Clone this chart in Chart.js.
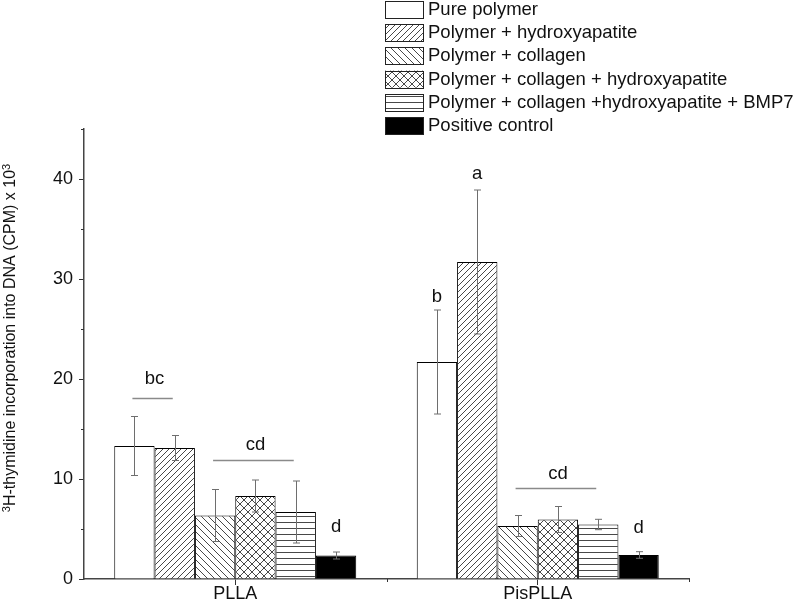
<!DOCTYPE html>
<html>
<head>
<meta charset="utf-8">
<script src="https://cdn.jsdelivr.net/npm/chart.js@4"></script>
<style>
  html, body { margin: 0; padding: 0; background: #fff; }
  #wrap { width: 799px; height: 604px; }
</style>
</head>
<body>
<div id="wrap"><canvas id="chart" width="799" height="604"></canvas></div>
<script>
// Categories and series
const groups = ["PLLA", "PisPLLA"];
const seriesNames = [
    "Pure polymer",
    "Polymer + hydroxyapatite",
    "Polymer + collagen",
    "Polymer + collagen + hydroxyapatite",
    "Polymer + collagen +hydroxyapatite + BMP7",
    "Positive control"
];

// Means (CPM x 10^3)
const purePolymer = [13.3, 21.7];
const withHydroxy = [13.1, 31.7];
const withCollagen = [6.35, 5.3];
const withCollagenHydroxy = [8.3, 5.95];
const withBmp7 = [6.7, 5.45];
const positiveControl = [2.35, 2.4];

// Error bars (+/-)
const errPure = [2.95, 5.2];
const errHydroxy = [1.25, 7.2];
const errCollagen = [2.6, 1.05];
const errCollagenHydroxy = [1.6, 1.3];
const errBmp7 = [3.1, 0.52];
const errPositive = [0.35, 0.33];

// Significance letters: group, first bar, last bar, letter height, line height
const sigLetters = ["bc", "cd", "d", "b", "a", "cd", "d"];
const sigGroup = [0, 0, 0, 1, 1, 1, 1];
const sigFrom = [0, 2, 5, 0, 1, 2, 5];
const sigTo = [1, 4, 5, 0, 1, 4, 5];
const sigTextY = [20.0, 13.4, 5.2, 28.2, 40.5, 10.5, 5.1];
const sigLineY = [18.05, 11.9, null, null, null, 9.15, null];

// Y axis
const yMax = 45;
const yStep = 5;

const FONT = "'Liberation Sans', Arial, sans-serif";

// Hatch patterns
function makePattern(kind) {
    if (kind === "white") return "#ffffff";
    if (kind === "black") return "#000000";
    const c = document.createElement("canvas");
    let s = 6;
    if (kind === "back") s = 7;
    if (kind === "cross") s = 8;
    c.width = s; c.height = s;
    const g = c.getContext("2d");
    g.fillStyle = "#fff";
    g.fillRect(0, 0, s, s);
    g.strokeStyle = "#333";
    g.lineWidth = 0.9;
    g.beginPath();
    if (kind === "fwd" || kind === "cross") {
        g.moveTo(-1, s + 1); g.lineTo(s + 1, -1);
        g.moveTo(-1, 1); g.lineTo(1, -1);
        g.moveTo(s - 1, s + 1); g.lineTo(s + 1, s - 1);
    }
    if (kind === "back" || kind === "cross") {
        g.moveTo(-1, -1); g.lineTo(s + 1, s + 1);
        g.moveTo(s - 1, -1); g.lineTo(s + 1, 1);
        g.moveTo(-1, s - 1); g.lineTo(1, s + 1);
    }
    if (kind === "horiz") {
        g.moveTo(0, 0.5); g.lineTo(s, 0.5);
    }
    g.stroke();
    return g.createPattern(c, "repeat");
}

const patterns = ["white", "fwd", "back", "cross", "horiz", "black"].map(makePattern);
const seriesValues = [purePolymer, withHydroxy, withCollagen, withCollagenHydroxy, withBmp7, positiveControl];
const seriesErrors = [errPure, errHydroxy, errCollagen, errCollagenHydroxy, errBmp7, errPositive];

const datasets = seriesNames.map((name, i) => ({
    label: name,
    data: seriesValues[i],
    errors: seriesErrors[i],
    backgroundColor: patterns[i],
    borderColor: "#000",
    borderWidth: 1,
    borderSkipped: "start",
    categoryPercentage: 0.8,
    barPercentage: 1.0
}));

// Error bars, letters, minor ticks, legend and y title
const extras = {
    id: "extras",
    afterDatasetsDraw(chart) {
        const ctx = chart.ctx;
        const y = chart.scales.y;
        ctx.save();
        // error bars
        ctx.strokeStyle = "#6e6e6e";
        ctx.lineWidth = 1;
        chart.data.datasets.forEach((ds, i) => {
            const meta = chart.getDatasetMeta(i);
            meta.data.forEach((bar, j) => {
                const v = ds.data[j], e = ds.errors[j];
                const x = Math.round(bar.x) + 0.5;
                const top = y.getPixelForValue(v + e);
                const bot = y.getPixelForValue(v - e);
                ctx.beginPath();
                ctx.moveTo(x, top); ctx.lineTo(x, bot);
                ctx.moveTo(x - 3.5, top); ctx.lineTo(x + 3.5, top);
                ctx.moveTo(x - 3.5, bot); ctx.lineTo(x + 3.5, bot);
                ctx.stroke();
            });
        });
        // significance letters
        ctx.font = "18.5px " + FONT;
        ctx.fillStyle = "#111";
        ctx.textAlign = "center";
        ctx.textBaseline = "middle";
        sigLetters.forEach((txt, k) => {
            const a = chart.getDatasetMeta(sigFrom[k]).data[sigGroup[k]];
            const b = chart.getDatasetMeta(sigTo[k]).data[sigGroup[k]];
            const cx = (a.x + b.x) / 2;
            ctx.fillText(txt, cx, y.getPixelForValue(sigTextY[k]));
            if (sigLineY[k] !== null) {
                const ly = Math.round(y.getPixelForValue(sigLineY[k])) + 0.5;
                ctx.strokeStyle = "#8a8a8a";
                ctx.lineWidth = 1.5;
                ctx.beginPath();
                ctx.moveTo(a.x - 2, ly); ctx.lineTo(b.x - 2, ly);
                ctx.stroke();
            }
        });
        ctx.restore();
    },
    afterDraw(chart) {
        const ctx = chart.ctx;
        const x = chart.scales.x, y = chart.scales.y;
        const area = chart.chartArea;
        ctx.save();
        // minor ticks
        ctx.strokeStyle = "#333";
        ctx.lineWidth = 1;
        ctx.beginPath();
        for (let v = yStep; v <= yMax; v += 2 * yStep) {
            const py = Math.round(y.getPixelForValue(v)) + 0.5;
            ctx.moveTo(area.left - 3, py); ctx.lineTo(area.left, py);
        }
        const half = (x.getPixelForTick(1) - x.getPixelForTick(0)) / 2;
        for (let k = 0; k < groups.length; k++) {
            const px = Math.round(x.getPixelForTick(k) + half) + 0.5;
            ctx.moveTo(px, area.bottom); ctx.lineTo(px, area.bottom + 3);
        }
        ctx.stroke();

        // legend
        ctx.font = "18.5px " + FONT;
        ctx.textAlign = "left";
        ctx.textBaseline = "middle";
        seriesNames.forEach((name, i) => {
            const top = 1 + i * 23.2;
            ctx.fillStyle = patterns[i];
            ctx.fillRect(385, top, 38, 17);
            ctx.strokeStyle = "#222";
            ctx.lineWidth = 1;
            ctx.strokeRect(385.5, Math.round(top) + 0.5, 38, 17);
            ctx.fillStyle = "#111";
            ctx.fillText(name, 428, top + 9);
        });

        // y axis title with superscripts
        ctx.translate(9, 338);
        ctx.rotate(-Math.PI / 2);
        const main = "H-thymidine incorporation into DNA (CPM) x 10";
        ctx.font = "16px " + FONT;
        const wMain = ctx.measureText(main).width;
        ctx.font = "11px " + FONT;
        const wSup = ctx.measureText("3").width;
        let start = -(wMain + 2 * wSup) / 2;
        ctx.fillStyle = "#111";
        ctx.textBaseline = "alphabetic";
        ctx.fillText("3", start, 1);
        ctx.font = "16px " + FONT;
        ctx.fillText(main, start + wSup, 6);
        ctx.font = "11px " + FONT;
        ctx.fillText("3", start + wSup + wMain, 1);
        ctx.restore();
    }
};

const chart = new Chart(document.getElementById("chart").getContext("2d"), {
    type: "bar",
    data: { labels: groups, datasets: datasets },
    options: {
        responsive: false,
        animation: false,
        layout: { padding: { left: 0, right: 110, top: 129, bottom: 0 } },
        plugins: {
            legend: { display: false },
            tooltip: { enabled: false }
        },
        scales: {
            x: {
                offset: true,
                grid: { drawOnChartArea: false, offset: false, tickLength: 6, color: "#333" },
                border: { color: "#444", width: 1.5 },
                ticks: { font: { family: FONT, size: 18 }, color: "#111", padding: -2 },
                afterFit(scale) { scale.height = 25; }
            },
            y: {
                min: 0,
                max: yMax,
                grid: {
                    drawOnChartArea: false,
                    tickLength: 5,
                    tickColor: (c) => (c.tick && c.tick.value % 10 === 0 ? "#333" : "rgba(0,0,0,0)")
                },
                border: { color: "#444", width: 1.5 },
                ticks: {
                    stepSize: yStep,
                    font: { family: FONT, size: 18 },
                    color: "#111",
                    padding: 6,
                    callback: (v) => (v % 10 === 0 ? v : "")
                },
                afterFit(scale) { scale.width = 84; }
            }
        }
    },
    plugins: [extras]
});
</script>
</body>
</html>
